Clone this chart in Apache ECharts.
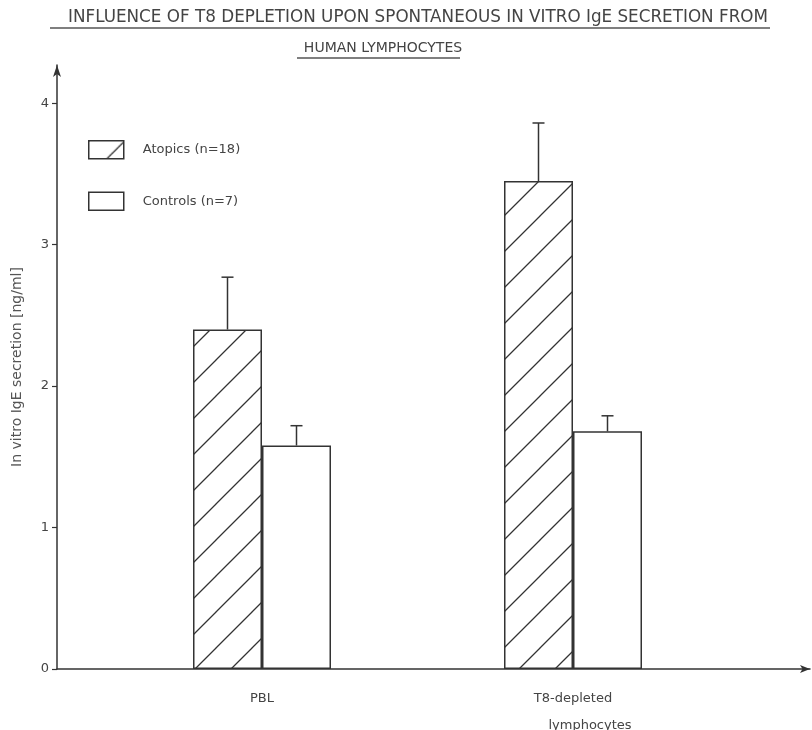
<!DOCTYPE html>
<html><head><meta charset="utf-8">
<script src="https://cdn.jsdelivr.net/npm/echarts@6/dist/echarts.min.js"></script>
<style>html,body{margin:0;padding:0;background:#fff}#c{width:812px;height:730px}</style>
</head><body><div id="c"></div>
<script>
// ---- data ----
const titleLine1 = 'INFLUENCE OF T8 DEPLETION UPON SPONTANEOUS IN VITRO IgE SECRETION FROM';
const titleLine2 = 'HUMAN LYMPHOCYTES';
const categories = ['PBL', 'T8-depleted\nlymphocytes'];
const seriesNames = ['Atopics (n=18)', 'Controls (n=7)'];
const atopicsMean = [2.40, 3.45];
const atopicsUpper = [2.77, 3.86];
const controlsMean = [1.58, 1.68];
const controlsUpper = [1.72, 1.79];
const yTicks = [0, 1, 2, 3, 4];
const yAxisName = 'In vitro IgE secretion [ng/ml]';

// ---- styles ----
const INK = '#333';
const BAR_W = 69;
const CAP = 6;
const Y_MAX = 4.27;

function hatchPattern() {
  const s = 36;
  const cv = document.createElement('canvas');
  cv.width = s; cv.height = s;
  const ctx = cv.getContext('2d');
  ctx.fillStyle = '#fff';
  ctx.fillRect(0, 0, s, s);
  ctx.strokeStyle = INK;
  ctx.lineWidth = 1.3;
  ctx.beginPath();
  ctx.moveTo(-2, s + 2); ctx.lineTo(s + 2, -2);
  ctx.moveTo(-2, 2); ctx.lineTo(2, -2);
  ctx.moveTo(s - 2, s + 2); ctx.lineTo(s + 2, s - 2);
  ctx.stroke();
  return cv;
}
const hatch = { image: hatchPattern(), repeat: 'repeat' };

function errorRender(sign) {
  return function (params, api) {
    const c = api.value(0), lo = api.value(1), hi = api.value(2);
    const p0 = api.coord([c, lo]);
    const p1 = api.coord([c, hi]);
    const x = p0[0] + sign * BAR_W / 2;
    const st = { stroke: INK, lineWidth: 1.5 };
    return {
      type: 'group', children: [
        { type: 'line', shape: { x1: x, y1: p0[1], x2: x, y2: p1[1] }, style: st },
        { type: 'line', shape: { x1: x - CAP, y1: p1[1], x2: x + CAP, y2: p1[1] }, style: st }
      ]
    };
  };
}

const chart = echarts.init(document.getElementById('c'), null, { renderer: 'canvas' });
const TOP = 65, BOTTOM = 61;
chart.setOption({
  animation: false,
  backgroundColor: '#fff',
  textStyle: { fontFamily: 'DejaVu Sans' },
  title: [
    { text: titleLine1, left: 413, top: 4, textAlign: 'center',
      textStyle: { fontSize: 16.8, fontWeight: 'normal', color: '#444', fontFamily: 'DejaVu Sans' } },
    { text: titleLine2, left: 378, top: 36, textAlign: 'center',
      textStyle: { fontSize: 14, fontWeight: 'normal', color: '#444', fontFamily: 'DejaVu Sans' } }
  ],
  graphic: [
    { type: 'line', shape: { x1: 50, y1: 28, x2: 770, y2: 28 }, style: { stroke: '#555', lineWidth: 1.3 } },
    { type: 'line', shape: { x1: 297, y1: 58, x2: 460, y2: 58 }, style: { stroke: '#555', lineWidth: 1.3 } }
  ],
  legend: {
    data: seriesNames,
    orient: 'vertical', left: 83, top: 135,
    itemWidth: 35, itemHeight: 18, itemGap: 32,
    icon: 'rect',
    itemStyle: { borderColor: INK, borderWidth: 1.5 },
    textStyle: { fontSize: 13, color: '#444', padding: [0, 0, 0, 14] }
  },
  grid: [
    { left: 57, right: 2, top: TOP, bottom: BOTTOM, outerBoundsMode: 'none', containLabel: false },
    { left: 106.5, width: 622, top: TOP, bottom: BOTTOM, outerBoundsMode: 'none', containLabel: false }
  ],
  xAxis: [
    { type: 'value', gridIndex: 0, min: 0, max: 1,
      axisLine: { show: true, lineStyle: { color: INK, width: 1.5 }, symbol: ['none', 'arrow'], symbolSize: [6, 10] },
      axisTick: { show: false }, axisLabel: { show: false }, splitLine: { show: false } },
    { type: 'category', gridIndex: 1, data: categories,
      axisLine: { show: false }, axisTick: { show: false }, splitLine: { show: false },
      axisLabel: { color: '#444', fontSize: 13, margin: 16, lineHeight: 27,
        formatter: function (v) {
          const parts = v.split('\n');
          return parts.length > 1 ? parts[0] + '\n{b|' + parts[1] + '}' : v;
        },
        rich: { b: { fontSize: 13, color: '#444', padding: [0, 0, 0, 34] } } } }
  ],
  yAxis: [
    { type: 'value', gridIndex: 0, min: 0, max: Y_MAX,
      name: yAxisName, nameLocation: 'middle', nameGap: 33,
      nameTextStyle: { fontSize: 14, color: '#555' },
      axisLine: { show: true, lineStyle: { color: INK, width: 1.5 }, symbol: ['none', 'arrow'], symbolSize: [6, 12] },
      axisTick: { show: true, length: 5, lineStyle: { color: INK, width: 1.2 }, customValues: yTicks },
      axisLabel: { color: '#444', fontSize: 13, margin: 8, customValues: yTicks },
      splitLine: { show: false } },
    { type: 'value', gridIndex: 1, min: 0, max: Y_MAX, show: false }
  ],
  series: [
    { name: seriesNames[0], type: 'bar', xAxisIndex: 1, yAxisIndex: 1,
      data: atopicsMean, barWidth: BAR_W, barGap: '0%',
      itemStyle: { color: hatch, borderColor: INK, borderWidth: 1.5 } },
    { name: seriesNames[1], type: 'bar', xAxisIndex: 1, yAxisIndex: 1,
      data: controlsMean, barWidth: BAR_W, barGap: '0%',
      itemStyle: { color: '#fff', borderColor: INK, borderWidth: 1.5 } },
    { name: 'atopicsErr', type: 'custom', xAxisIndex: 1, yAxisIndex: 1,
      renderItem: errorRender(-1),
      data: categories.map((c, i) => [i, atopicsMean[i], atopicsUpper[i]]) },
    { name: 'controlsErr', type: 'custom', xAxisIndex: 1, yAxisIndex: 1,
      renderItem: errorRender(1),
      data: categories.map((c, i) => [i, controlsMean[i], controlsUpper[i]]) }
  ]
});
</script>
</body></html>
